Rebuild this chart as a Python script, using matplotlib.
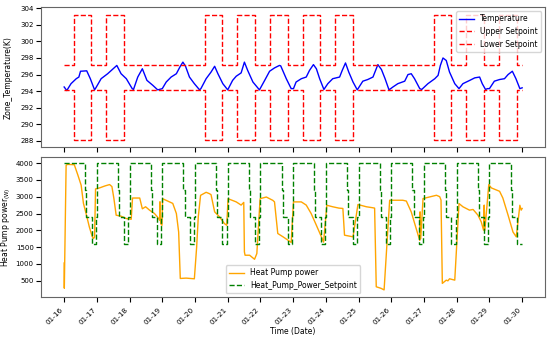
import matplotlib
matplotlib.use('Agg')
import matplotlib.pyplot as plt
import matplotlib.dates as mdates
import pandas as pd

# start of the record, values are given in days from this date
start = pd.Timestamp('2016-01-16')

## Zone temperature (K) ###########################
temp_days = [0.00, 0.01, 0.08, 0.21, 0.37, 0.45, 0.50, 0.69, 0.80, 0.93, 0.97, 1.13, 1.33,
             1.47, 1.61, 1.74, 1.90, 2.08, 2.12, 2.25, 2.39, 2.53, 2.71, 2.86, 3.00, 3.12,
             3.27, 3.43, 3.55, 3.63, 3.71, 3.83, 3.98, 4.14, 4.18, 4.34, 4.49, 4.60, 4.70,
             4.85, 5.00, 5.15, 5.26, 5.41, 5.51, 5.61, 5.77, 5.97, 6.13, 6.28, 6.43, 6.58,
             6.62, 6.79, 6.94, 7.01, 7.09, 7.25, 7.40, 7.50, 7.62, 7.71, 7.81, 7.94, 8.06,
             8.21, 8.42, 8.50, 8.60, 8.70, 8.83, 8.96, 9.13, 9.28, 9.44, 9.52, 9.59, 9.70,
             9.81, 9.93, 10.05, 10.20, 10.41, 10.51, 10.61, 10.71, 10.87, 10.93, 11.12,
             11.33, 11.43, 11.50, 11.58, 11.68, 11.78, 11.94, 12.07, 12.19, 12.40, 12.55,
             12.70, 12.78, 12.88, 12.94, 13.00, 13.15, 13.31, 13.46, 13.57, 13.70, 13.81,
             13.93, 14.00]
temp_vals = [294.5, 294.45, 294.07, 294.9, 295.5, 295.7, 296.4, 296.45, 295.5, 294.15, 294.4,
             295.5, 296.1, 296.6, 297.1, 296.1, 295.5, 294.3, 294.2, 295.7, 296.7, 295.3,
             294.7, 294.15, 294.3, 295.1, 295.7, 296.1, 297.0, 297.5, 297.0, 295.7, 294.9,
             294.15, 294.3, 295.5, 296.3, 297.0, 296.1, 294.9, 294.15, 295.3, 295.8, 296.2,
             297.5, 296.5, 295.1, 294.15, 295.3, 296.4, 296.8, 297.1, 297.05, 295.5, 294.3,
             294.3, 295.1, 295.5, 295.7, 296.5, 297.2, 296.7, 295.5, 294.2, 294.9, 295.5,
             295.7, 296.5, 297.4, 296.3, 295.1, 294.15, 295.2, 295.4, 295.7, 296.5, 297.2,
             296.6, 295.5, 294.15, 294.5, 294.9, 295.2, 296.0, 296.1, 295.5, 294.3, 294.2,
             294.9, 295.5, 295.9, 297.1, 298.0, 297.7, 296.3, 294.9, 294.3, 294.9, 295.3,
             295.6, 295.7, 294.9, 294.2, 294.3, 294.3, 295.2, 295.4, 295.5, 296.0, 296.4,
             295.5, 294.3, 294.4]

## Comfort band setpoints (K) #####################
wide_band_days = [0, 1, 4, 5, 6, 7, 8, 11, 12, 13]
wide_band_hours = [7.0, 20.0]
upper_sp = [297.15, 303.15]   # normal, wide band
lower_sp = [294.15, 288.15]

## Heat pump power (W) ############################
hp_days = [0.00, 0.005, 0.06, 0.10, 0.31, 0.42, 0.52, 0.59, 0.67, 0.77, 0.86, 0.90, 0.93,
           0.96, 1.08, 1.25, 1.39, 1.46, 1.52, 1.59, 1.74, 1.90, 2.05, 2.09, 2.31, 2.39,
           2.49, 2.61, 2.76, 2.85, 2.92, 2.93, 2.95, 2.99, 3.01, 3.32, 3.43, 3.50, 3.55,
           3.73, 3.98, 4.05, 4.10, 4.17, 4.34, 4.44, 4.49, 4.60, 4.75, 4.90, 4.97, 5.01,
           5.26, 5.41, 5.49, 5.51, 5.53, 5.67, 5.82, 5.89, 5.99, 6.18, 6.38, 6.43, 6.53,
           6.69, 6.84, 6.94, 7.01, 7.25, 7.40, 7.55, 7.71, 7.84, 7.93, 8.03, 8.21, 8.40,
           8.52, 8.57, 8.83, 8.98, 9.24, 9.44, 9.49, 9.54, 9.69, 9.78, 9.95, 10.35, 10.46,
           10.61, 10.76, 10.87, 10.88, 10.90, 10.97, 11.17, 11.38, 11.48, 11.52, 11.56,
           11.68, 11.73, 11.78, 11.94, 12.07, 12.19, 12.39, 12.50, 12.65, 12.75, 12.82,
           12.84, 12.86, 12.98, 13.06, 13.31, 13.41, 13.57, 13.72, 13.82, 13.93, 13.97,
           14.00]
hp_vals = [1030, 280, 3930, 3960, 3950, 3640, 3340, 2800, 2500, 2100, 1810, 1760, 1800,
           3230, 3260, 3320, 3360, 3300, 2950, 2450, 2420, 2350, 2330, 2960, 2960, 2640,
           2700, 2600, 2500, 2400, 2300, 2850, 2200, 2150, 2940, 2800, 2500, 1950, 570,
           580, 560, 1500, 2400, 3040, 3130, 3090, 3060, 2550, 2400, 2200, 2150, 2940,
           2845, 2750, 2830, 1360, 1260, 1260, 1140, 1310, 2940, 2990, 2890, 2845, 1906,
           1807, 1708, 1640, 2845, 2845, 2750, 2500, 2150, 1860, 1650, 2745, 2700, 2660,
           2650, 1856, 1807, 2767, 2700, 2670, 2660, 323, 275, 230, 2894, 2894, 2870,
           2547, 2055, 1700, 2550, 1750, 2944, 2992, 3042, 3000, 2900, 424,
           520, 500, 560, 520, 2796, 2700, 2600, 2620, 2450, 2250, 2004,
           2750, 2000, 3359, 3260, 3160, 2960, 2450, 1950, 1807, 2745, 2600,
           2650]

## Heat pump power setpoint: daily schedule (fraction of day, W)
hp_sp_times = [0.0, 0.645, 0.68, 0.84, 0.965]
hp_sp_vals = [4000, 3200, 2400, 1600, 2400]
n_days = 14


def to_dates(days):
    return start + pd.to_timedelta(days, unit='D')


# build the step series for the setpoints
sp_t = [0.0]
up_v = [upper_sp[0]]
lo_v = [lower_sp[0]]
for d in wide_band_days:
    sp_t += [d + wide_band_hours[0] / 24, d + wide_band_hours[1] / 24]
    up_v += [upper_sp[1], upper_sp[0]]
    lo_v += [lower_sp[1], lower_sp[0]]
sp_t.append(n_days)
up_v.append(upper_sp[0])
lo_v.append(lower_sp[0])

hs_t = []
hs_v = []
for d in range(n_days):
    steps = hp_sp_times if d < n_days - 1 else hp_sp_times[:-1]
    vals = hp_sp_vals if d < n_days - 1 else hp_sp_vals[:-1]
    hs_t += [d + s for s in steps]
    hs_v += vals
hs_t.append(n_days)
hs_v.append(hs_v[-1])

plt.rcParams['font.size'] = 5.5
plt.rcParams['xtick.labelsize'] = 5.2
plt.rcParams['ytick.labelsize'] = 5
plt.rcParams['ytick.major.pad'] = 2.0

fig, (ax1, ax2) = plt.subplots(2, 1, figsize=(5.5, 3.39), dpi=100, sharex=True)
fig.subplots_adjust(left=0.075, right=0.991, top=0.978, bottom=0.124, hspace=0.068)

ax1.plot(to_dates(temp_days), temp_vals, color='blue', lw=1.0, label='Temperature')
ax1.plot(to_dates(sp_t), up_v, 'r--', lw=1.0, drawstyle='steps-post', label='Upper Setpoint')
ax1.plot(to_dates(sp_t), lo_v, 'r--', lw=1.0, drawstyle='steps-post', label='Lower Setpoint')
ax1.set_ylim(287.2, 304.1)
ax1.set_yticks(range(288, 305, 2))
ax1.set_ylabel('Zone_Temperature(K)')
ax1.legend(loc='upper right')

ax2.plot(to_dates(hp_days), hp_vals, color='orange', lw=1.0, label='Heat Pump power')
ax2.plot(to_dates(hs_t), hs_v, 'g--', lw=1.0, drawstyle='steps-post',
         label='Heat_Pump_Power_Setpoint')
ax2.set_ylim(20, 4180)
ax2.set_yticks(range(500, 4001, 500))
ax2.set_ylabel(r'Heat Pump power$_{\mathrm{(W)}}$')
ax2.legend(loc='lower center')
ax2.set_xlabel('Time (Date)', labelpad=1)

ax2.xaxis.set_major_locator(mdates.DayLocator())
ax2.xaxis.set_major_formatter(mdates.DateFormatter('%m-%d'))
for lab in ax2.get_xticklabels():
    lab.set_rotation(45)
    lab.set_ha('right')

for ax in (ax1, ax2):
    for sp in ax.spines.values():
        sp.set_color('#666666')
    ax.yaxis.set_label_coords(-0.056, 0.5)

fig.savefig('out.png', dpi=100)
